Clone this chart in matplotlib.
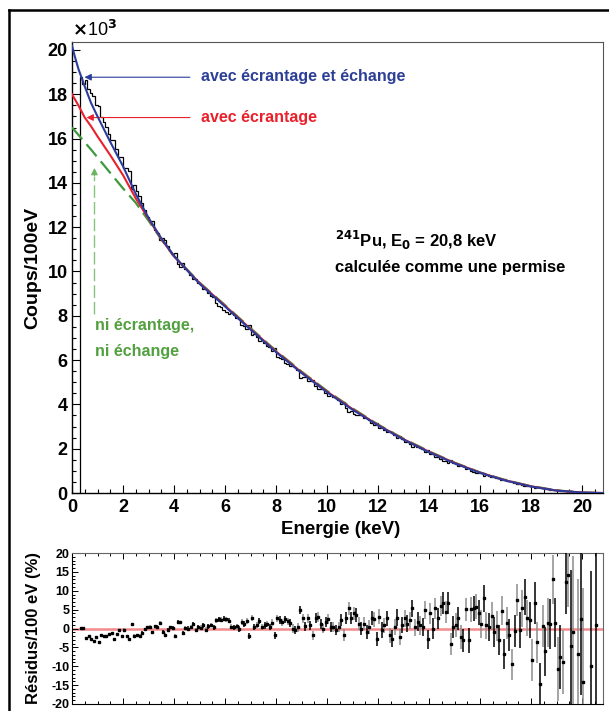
import numpy as np
import matplotlib.pyplot as plt
from matplotlib.lines import Line2D
from matplotlib.ticker import MultipleLocator

plt.rcParams['font.family'] = ['Liberation Sans', 'DejaVu Sans']
plt.rcParams['font.weight'] = 'bold'

# fitted spectra, x10^3 counts per 100 eV
energy_fit = [0, 0.1, 0.25, 0.5, 0.75, 1, 1.5, 2, 2.5, 3, 3.5, 4, 5, 6, 7, 8, 9, 10,
              11, 12, 13, 14, 15, 16, 17, 18, 19, 20, 20.8]
fit_blue = [20.2, 19.75, 19.15, 18.35, 17.6, 17.0, 15.85, 14.75, 13.5, 12.42, 11.5, 10.7,
            9.45, 8.42, 7.38, 6.36, 5.42, 4.55, 3.76, 3.05, 2.41, 1.84, 1.34, 0.91, 0.56,
            0.29, 0.11, 0.02, 0.0]
fit_red = [18.0, 17.8, 17.5, 16.95, 16.55, 16.1, 15.25, 14.35, 13.3, 12.38, 11.47, 10.68,
           9.48, 8.45, 7.41, 6.39, 5.45, 4.58, 3.79, 3.07, 2.43, 1.86, 1.36, 0.92, 0.57,
           0.30, 0.11, 0.02, 0.0]
fit_green = [16.5, 16.37, 16.17, 15.83, 15.5, 15.15, 14.45, 13.75, 13.1, 12.3, 11.45, 10.7,
             9.5, 8.48, 7.44, 6.42, 5.48, 4.61, 3.82, 3.09, 2.45, 1.88, 1.37, 0.93, 0.58,
             0.31, 0.12, 0.02, 0.0]

# residuals (%) per 100 eV bin, first bin 0.3-0.4 keV
bin_start = 0.3
bin_width = 0.1
res_0_5keV = [0.2, 0.2, -2.5, -2.0, -2.7, -3.2, -2.3, -3.5, -1.8, -2.1, -2.0, -1.5, -1.2,
              -2.8, -1.5, -0.5, -2.0, -0.3, -2.0, -2.8, 1.2, -1.9, -1.7, -1.9, -1.1, -0.1,
              0.4, 0.4, -1.0, 0.6, 0.4, 1.5, -0.9, -1.6, -0.4, 0.3, 0.1, -2.0, 1.8, 1.6,
              -1.2, 0.2, 0.0, 0.4, 1.1, -0.4]
res_5_10keV = [0.5, 0.2, 0.8, -0.3, 0.6, 0.9, 0.3, 2.2, 2.5, 2.3, 2.6, 2.4, 2.1, 0.5, 0.3,
               0.6, -0.2, 1.8, 1.2, 2.0, -2.0, 2.7, 0.5, 1.0, 2.0, 0.3, 0.8, 1.2, 0.4, 1.5,
               -1.8, 2.7, 2.2, 1.6, 2.4, 1.9, 1.5, 0.0, -0.4, 0.3, 4.9, 2.7, 0.6, 2.7, 0.9,
               -1.8, 2.7, 3.1, 1.3, 0.0, 1.8, 2.5, 0.4]
res_10_15keV = [0.4, -0.4, 0.4, 2.2, -1.8, 2.7, 5.3, 2.7, 4.0, 3.6, 1.3, 0.0, 1.3, -0.9,
                0.4, 2.7, 2.4, -2.7, 3.1, -0.4, 0.9, 2.7, -1.8, -2.7, 0.4, 2.9, -2.2, 0.9,
                2.7, 1.3, 2.2, 5.3, 0.3, 1.8, 0.9, 0.4, 4.9, -2.9, 4.0, 0.0, 5.3, 2.7, 6.0,
                6.7, 4.4, 6.8, -4.0, 0.4, 0.9, 2.7, -2.2, -3.1, 5.1]
res_15_21keV = [-3.1, 5.1, 5.3, 5.8, 4.2, 1.2, 8.0, 0.9, 0.4, 3.3, -0.9, 0.7, -3.1, 4.7,
                -6.8, 1.5, -1.8, -9.5, -0.7, 7.6, -0.4, 5.3, 8.4, 2.7, 2.2, -8.3, 6.7, -3.7,
                -14.6, 0.6, -6.0, 1.5, 1.2, 13.1, 1.5, -10.7, -7.6, -8.9, 12.4, 14.2, -4.6,
                -0.9, np.nan, -6.8, 2.4, -14.2, np.nan, np.nan, -9.9, np.nan, 0.9, np.nan,
                np.nan]
# half length of the error bars (%) for each 0.5 keV band from 0 keV
err_band = [0.25, 0.25, 0.3, 0.3, 0.35, 0.35, 0.4, 0.45, 0.5, 0.55, 0.6, 0.65, 0.7, 0.75,
            0.8, 0.9, 1.0, 1.1, 1.2, 1.3, 1.4, 1.6, 1.8, 1.9, 2.0, 2.2, 2.3, 2.5, 2.7, 2.9,
            3.1, 3.3, 3.6, 3.9, 4.2, 4.8, 5.5, 6.5, 8.5, 20, 25, 30]

blue = '#2b3c9c'
red = '#e8212b'
green = '#3c9a3c'

residuals = np.array(res_0_5keV + res_5_10keV + res_10_15keV + res_15_21keV)
edges = bin_start + bin_width * np.arange(len(residuals) + 1)
centers = edges[:-1] + bin_width / 2
errors = np.array(err_band)[(centers / 0.5).astype(int)]
# measured spectrum built from the blue fit and the residuals
counts = np.interp(centers, energy_fit, fit_blue) * (1 - np.nan_to_num(residuals) / 100)

fig = plt.figure(figsize=(6.09, 7.11), dpi=100)
ax = fig.add_axes([72 / 609, 1 - 493 / 711, 531 / 609, 451 / 711])
axr = fig.add_axes([72 / 609, 1 - 704 / 711, 531 / 609, 151 / 711])

# outer frame (left and top edges only are visible)
fig.add_artist(Line2D([9 / 609, 9 / 609], [0, 1 - 9.5 / 711], transform=fig.transFigure,
                      color='black', lw=1.8))
fig.add_artist(Line2D([9 / 609, 1], [1 - 9.5 / 711, 1 - 9.5 / 711], transform=fig.transFigure,
                      color='black', lw=1.8))

# main spectrum
ax.stairs(counts, edges, baseline=0, color='black', lw=0.9, zorder=2)
ax.plot(energy_fit, fit_green, color=green, lw=1.6, ls=(0, (7, 3)), zorder=3)
ax.plot(energy_fit, fit_red, color=red, lw=1.5, zorder=4)
ax.plot(energy_fit, fit_blue, color=blue, lw=1.5, zorder=5)

ax.set_xlim(0, 20.82)
ax.set_ylim(0, 20.36)
ax.xaxis.set_major_locator(MultipleLocator(2))
ax.xaxis.set_minor_locator(MultipleLocator(0.5))
ax.yaxis.set_major_locator(MultipleLocator(2))
ax.yaxis.set_minor_locator(MultipleLocator(0.5))
ax.tick_params(which='both', direction='in', top=False, right=False, labelsize=13)
ax.tick_params(which='major', length=6, width=0.8)
ax.tick_params(which='minor', length=3, width=0.8)
ax.tick_params(axis='y', pad=3)
ax.tick_params(axis='x', pad=4)
for side in ['top', 'right']:
    ax.spines[side].set_color('#555555')
for side in ['left', 'bottom']:
    ax.spines[side].set_linewidth(1.0)

ax.set_xlabel('Energie (keV)', fontsize=13.5, fontweight='bold')
ax.xaxis.set_label_coords(0.505, -0.063)
ax.set_ylabel('Coups/100eV', fontsize=14, fontweight='bold')
ax.yaxis.set_label_coords(-0.058, 0.5)
ax.text(0.0, 1.004, r'$\times$10$^3$', transform=ax.transAxes, fontsize=13,
        fontweight='normal', ha='left', va='bottom')

# annotations
ax.annotate('', xy=(0.38, 18.77), xytext=(4.73, 18.77),
            arrowprops=dict(arrowstyle='-|>', color=blue, lw=0.8, mutation_scale=10))
ax.text(5.06, 18.8, 'avec écrantage et échange', color='#2d3f96', fontsize=11.5,
        fontweight='bold', va='center')
ax.annotate('', xy=(0.46, 16.95), xytext=(4.73, 16.95),
            arrowprops=dict(arrowstyle='-|>', color=red, lw=0.8, mutation_scale=10))
ax.text(5.06, 16.95, 'avec écrantage', color=red, fontsize=11.5, fontweight='bold',
        va='center')
ax.plot([0.88, 0.88], [8.1, 14.3], color='#86c37a', lw=1.0, ls=(0, (9, 3)))
ax.annotate('', xy=(0.88, 14.8), xytext=(0.88, 14.2),
            arrowprops=dict(arrowstyle='-|>', color='#6db35e', lw=0.8, mutation_scale=10))
ax.text(0.9, 7.58, 'ni écrantage,', color='#52a03f', fontsize=11.5, fontweight='bold',
        va='center')
ax.text(0.9, 6.4, 'ni échange', color='#52a03f', fontsize=11.5, fontweight='bold',
        va='center')
ax.text(10.3, 11.42, r'$^{241}$Pu, E$_{0}$ = 20,8 keV', fontsize=12, fontweight='bold',
        va='center')
ax.text(10.3, 10.16, 'calculée comme une permise', fontsize=12, fontweight='bold',
        va='center')

# residuals
axr.axhline(0, color='#f28b8b', lw=1.8, zorder=1)
for sl, ecol in [(slice(0, None, 2), 'black'), (slice(1, None, 2), '#8c8c8c')]:
    axr.errorbar(centers[sl], residuals[sl], yerr=errors[sl], fmt='s', ms=1.8,
                 color='black', ecolor=ecol, elinewidth=1.1, capsize=0, zorder=3)
axr.set_xlim(0, 20.82)
axr.set_ylim(-20, 20)
axr.xaxis.set_major_locator(MultipleLocator(2))
axr.xaxis.set_minor_locator(MultipleLocator(0.5))
axr.yaxis.set_minor_locator(MultipleLocator(1))
axr.set_yticks([20, 15, 10, 5, 0, -5, -10, -15, -20])
axr.set_yticklabels(['20', '15', '10', '5', '0', '-5', '-10', '-15', '-20'])
axr.tick_params(which='both', direction='in', top=True, right=False, labelbottom=False,
                labelsize=9, pad=2)
axr.tick_params(which='major', length=4, width=0.7)
axr.tick_params(which='minor', length=2, width=0.7)
for side in ['top', 'right']:
    axr.spines[side].set_color('#666666')
axr.set_ylabel('Résidus/100 eV (%)', fontsize=12, fontweight='bold')
axr.yaxis.set_label_coords(-0.058, 0.5)

fig.savefig('out.png', dpi=100)
